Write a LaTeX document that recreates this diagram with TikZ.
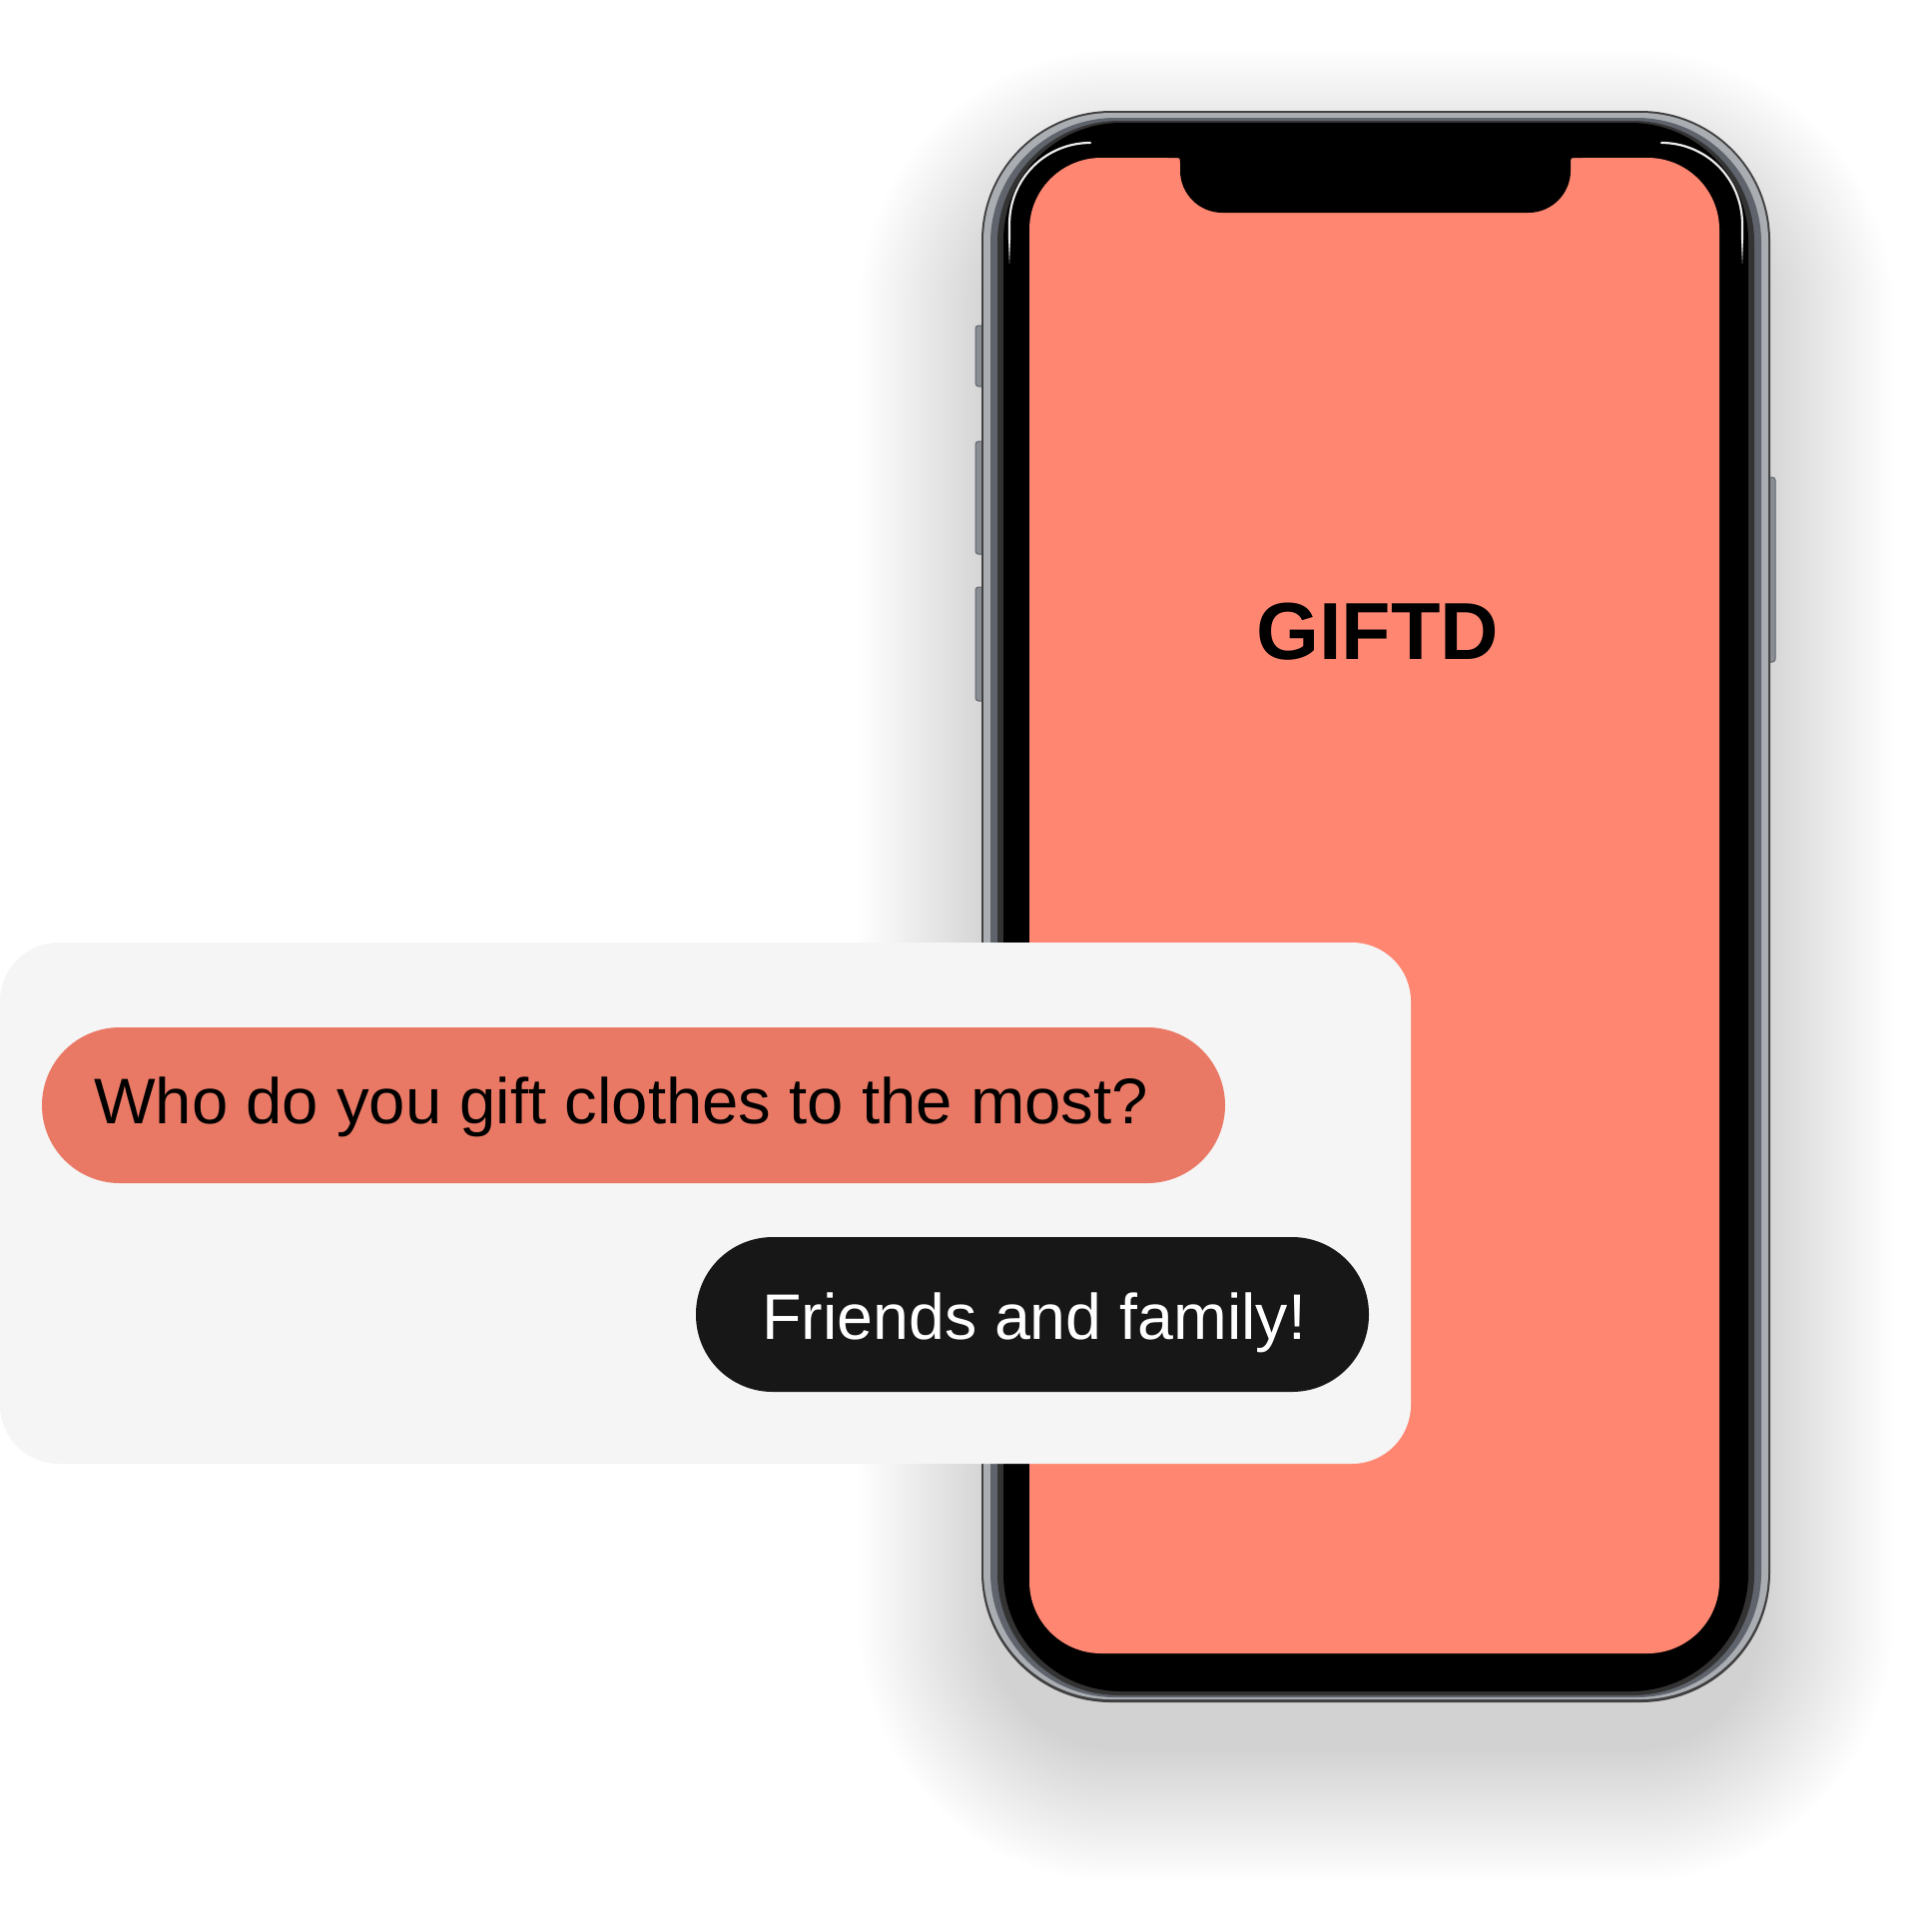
\documentclass[tikz,border=0pt]{standalone}
\usepackage{fontspec}
\setmainfont{Liberation Sans}
\definecolor{screencol}{RGB}{255,135,114}
\definecolor{qbub}{RGB}{233,121,101}
\definecolor{abub}{RGB}{23,23,23}
\definecolor{cardcol}{RGB}{245,245,245}
\definecolor{metal}{RGB}{170,173,178}
\definecolor{metaldark}{RGB}{95,99,108}
\definecolor{btncol}{RGB}{138,142,148}
\tikzset{
  bubtext/.style={anchor=base west, inner sep=0pt, font=\fontsize{64.5}{75}\selectfont},
  sidebtn/.style={fill=btncol, draw=metaldark, line width=1pt, rounded corners=3pt},
  glint/.style={white!85!gray, line width=2.2pt, line cap=round},
}
\begin{document}
\begin{tikzpicture}[x=1pt,y=-1pt]
\useasboundingbox (0,0) rectangle (1935,1920);
\fill[white] (0,0) rectangle (1935,1920);
% soft shadow of the phone
\foreach \i in {1,...,45}{
  \pgfmathsetmacro\rr{125+3*\i}
  \fill[black,opacity=0.003,rounded corners=\rr pt] (995-3*\i,185-3*\i) rectangle (1761+3*\i,1750+3*\i);
}
% side buttons
\draw[sidebtn] (977,326) rectangle (987,387);
\draw[sidebtn] (977,442) rectangle (987,555);
\draw[sidebtn] (977,588) rectangle (987,702);
\draw[sidebtn] (1769,478) rectangle (1778,663);
% phone body layers
\fill[black!75,rounded corners=130pt] (983,111) rectangle (1773,1705);
\fill[metal,rounded corners=128pt] (985,113) rectangle (1771,1702);
\fill[metaldark,rounded corners=125pt] (992,118) rectangle (1764,1700);
\fill[black!80,rounded corners=122pt] (999,121) rectangle (1757,1698);
\fill[black,rounded corners=118pt] (1005,123) rectangle (1751,1694);
% highlights at top corners
\draw[glint] (1011,240) -- (1011,225) .. controls (1011,178) and (1048,143) .. (1092,143);
\draw[glint] (1745,240) -- (1745,225) .. controls (1745,178) and (1708,143) .. (1664,143);
\foreach \k in {0,...,5}{
  \pgfmathsetmacro\op{1-\k/6}
  \draw[glint,line cap=butt,opacity=\op] (1011,240+4*\k) -- (1011,244+4*\k);
  \draw[glint,line cap=butt,opacity=\op] (1745,240+4*\k) -- (1745,244+4*\k);
}
% screen
\fill[screencol,rounded corners=72pt] (1031,158) rectangle (1722,1656);
% notch
\fill[black] (1170,150) -- (1170,158) -- (1176,158) .. controls (1182,158) .. (1182,164)
  -- (1182,171) .. controls (1182,194) and (1201,213) .. (1224,213)
  -- (1531,213) .. controls (1554,213) and (1573,194) .. (1573,171)
  -- (1573,164) .. controls (1573,158) .. (1579,158) -- (1585,158) -- (1585,150) -- cycle;
\node[anchor=base west, inner sep=0pt, font=\bfseries\fontsize{81}{90}\selectfont] (logo) at (1258,660) {GIFTD};
% chat card
\fill[cardcol,rounded corners=59pt] (0,944) rectangle (1413,1466);
\node[fill=qbub, rounded corners=78pt, minimum width=1185pt, minimum height=156pt, inner sep=0pt] (qb) at (634.5,1107) {};
\node[bubtext] (qt) at (94,1125) {\scalebox{1.012}[1]{Who do you gift clothes to the most?}};
\node[fill=abub, rounded corners=77pt, minimum width=674pt, minimum height=155pt, inner sep=0pt] (ab) at (1034,1316.5) {};
\node[bubtext, text=white] (at) at (763,1341) {Friends and family!};
\end{tikzpicture}
\end{document}
